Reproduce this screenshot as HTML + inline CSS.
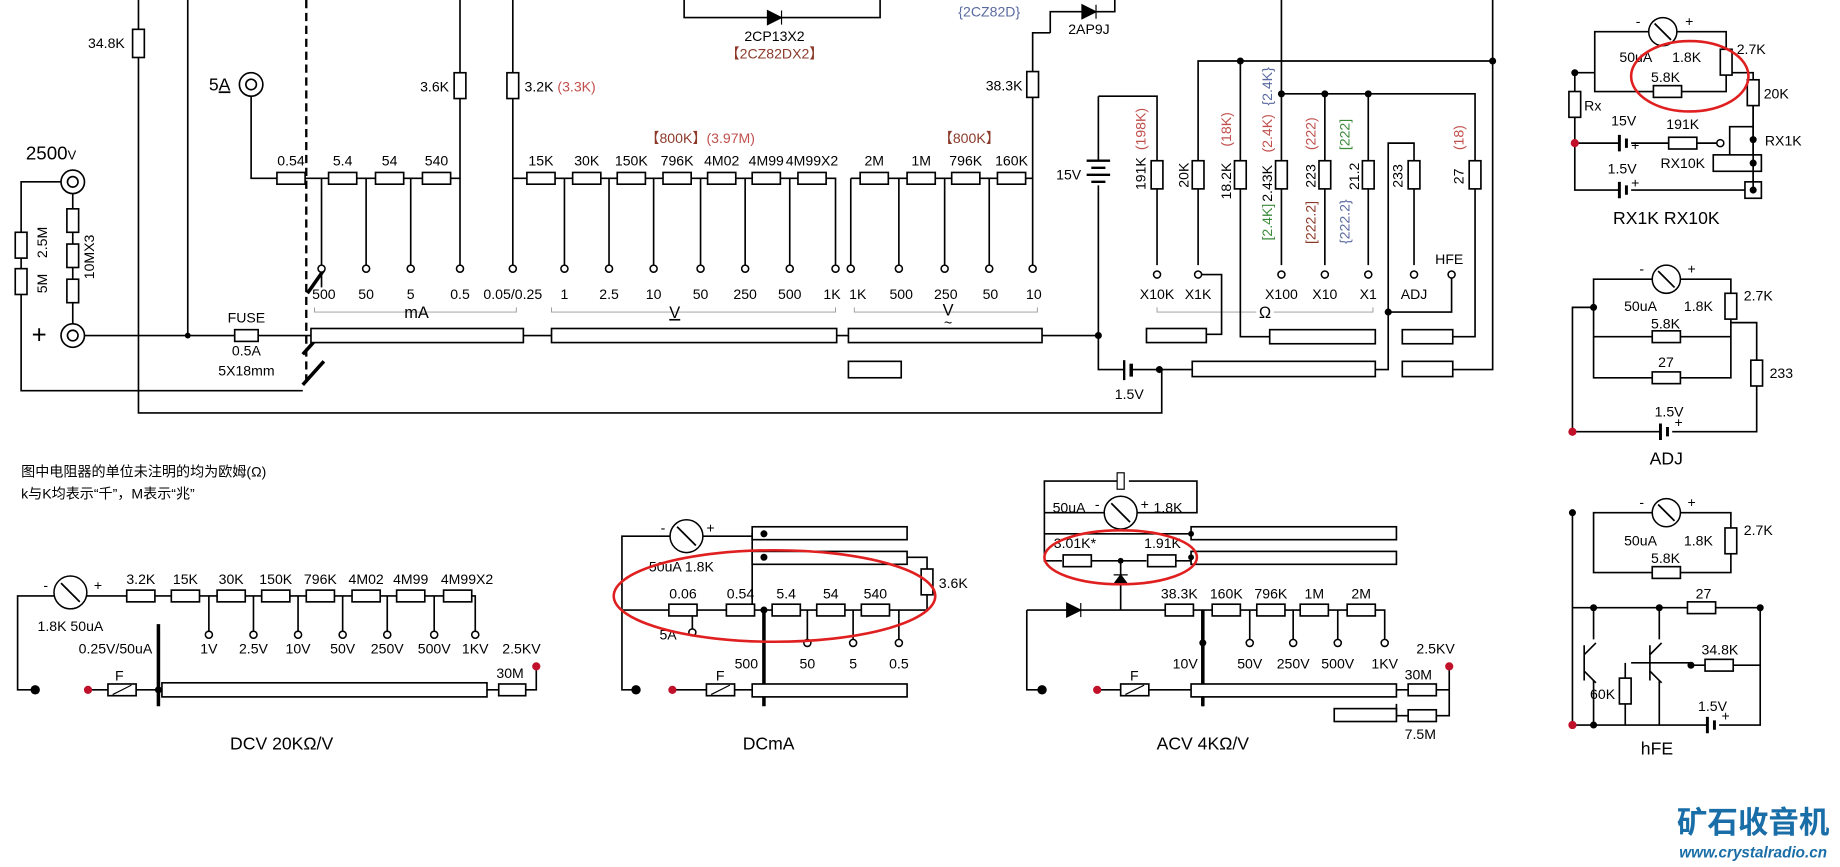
<!DOCTYPE html>
<html><head><meta charset="utf-8"><style>
html,body{margin:0;padding:0;background:#fff;}
svg{display:block;}
text{font-family:"Liberation Sans","Noto Sans CJK SC",sans-serif;font-size:12px;fill:#000;}
.l{stroke:#000;stroke-width:1.4;fill:none;}
.r{fill:#fff;stroke:#000;stroke-width:1.4;}
.t{fill:#fff;stroke:#000;stroke-width:1.3;}
.br{fill:#8b3a2a;}.rd{fill:#c0504d;}.bl{fill:#5a6aa0;}.gr{fill:#3a8a3a;}
.m{text-anchor:middle;}
.b{font-size:15px;}
</style></head><body>
<svg width="1840" height="867" viewBox="0 0 1568 739" preserveAspectRatio="none" xmlns="http://www.w3.org/2000/svg">
<!-- ===== TOP MAIN ===== -->
<path class="l" d="M118 0V352H990V315"/>
<rect class="r" x="113" y="25" width="10" height="24"/>
<text x="75" y="41">34.8K</text>
<path class="l" d="M160 0V286"/>
<circle cx="160" cy="286" r="2.5"/>
<circle class="l" cx="62" cy="155" r="10" stroke-width="2"/><circle class="l" cx="62" cy="155" r="4.5"/>
<text x="22" y="136" style="font-size:16px">2500<tspan style="font-size:11px">V</tspan></text>
<path class="l" d="M52 155H18V333H258"/>
<rect class="r" x="13" y="198" width="10" height="22"/><rect class="r" x="13" y="229" width="10" height="22"/>
<text transform="translate(40,220) rotate(-90)">2.5M</text>
<text transform="translate(40,250) rotate(-90)">5M</text>
<path class="l" d="M62 165V276"/>
<rect class="r" x="57" y="178" width="10" height="20"/><rect class="r" x="57" y="208" width="10" height="20"/><rect class="r" x="57" y="238" width="10" height="20"/>
<text transform="translate(80,238) rotate(-90)">10MX3</text>
<circle class="l" cx="62" cy="286" r="10" stroke-width="2"/><circle class="l" cx="62" cy="286" r="4.5"/>
<text x="27" y="293" style="font-size:22px">+</text>
<path class="l" d="M72 286H265"/>
<rect class="r" x="200" y="281" width="20" height="10"/>
<text class="m" x="210" y="275">FUSE</text><text class="m" x="210" y="303">0.5A</text><text class="m" x="210" y="320">5X18mm</text>
<circle class="l" cx="214" cy="72" r="10" stroke-width="2"/><circle class="l" cx="214" cy="72" r="4.5"/>
<text x="178" y="77" style="font-size:15px">5<tspan text-decoration="underline">A</tspan></text>
<path class="l" d="M214 82V152H392V0"/>
<path d="M261 0V330" stroke="#000" stroke-width="2" stroke-dasharray="7,4"/>
<path d="M262 250L276 230M258 302L276 282M258 328L276 308" stroke="#000" stroke-width="3"/>
<rect class="r" x="236" y="147" width="24" height="10"/><rect class="r" x="280" y="147" width="24" height="10"/>
<rect class="r" x="320" y="147" width="24" height="10"/><rect class="r" x="360" y="147" width="24" height="10"/>
<text class="m" x="248" y="141">0.54</text><text class="m" x="292" y="141">5.4</text><text class="m" x="332" y="141">54</text><text class="m" x="372" y="141">540</text>
<rect class="r" x="387" y="62" width="10" height="22"/><text x="358" y="78">3.6K</text>
<path class="l" d="M274 152V245M312 152V226M350 152V226M392 152V226"/>
<path class="l" d="M437 0V226M437 152H712V226"/>
<rect class="r" x="432" y="62" width="10" height="22"/><text x="447" y="78">3.2K <tspan class="rd">(3.3K)</tspan></text>
<rect class="r" x="449" y="147" width="24" height="10"/><rect class="r" x="488" y="147" width="24" height="10"/><rect class="r" x="526" y="147" width="24" height="10"/>
<rect class="r" x="565" y="147" width="24" height="10"/><rect class="r" x="603" y="147" width="24" height="10"/><rect class="r" x="641" y="147" width="24" height="10"/><rect class="r" x="680" y="147" width="24" height="10"/>
<text class="m" x="461" y="141">15K</text><text class="m" x="500" y="141">30K</text><text class="m" x="538" y="141">150K</text><text class="m" x="577" y="141">796K</text><text class="m" x="615" y="141">4M02</text><text class="m" x="653" y="141">4M99</text><text class="m" x="692" y="141">4M99X2</text>
<text x="550" y="122" class="br">【800K】<tspan class="rd">(3.97M)</tspan></text>
<path class="l" d="M481 152V226M519 152V226M557 152V226M597 152V226M635 152V226M673 152V226"/>
<path class="l" d="M725 152V226M725 152H880V226M880 152V28H895"/>
<rect class="r" x="733" y="147" width="24" height="10"/><rect class="r" x="773" y="147" width="24" height="10"/><rect class="r" x="811" y="147" width="24" height="10"/><rect class="r" x="850" y="147" width="24" height="10"/>
<text class="m" x="745" y="141">2M</text><text class="m" x="785" y="141">1M</text><text class="m" x="823" y="141">796K</text><text class="m" x="862" y="141">160K</text>
<text x="800" y="122" class="br">【800K】</text>
<rect class="r" x="875" y="61" width="10" height="22"/><text x="840" y="77">38.3K</text>
<path class="l" d="M766 152V226M805 152V226M843 152V226"/>
<g fill="#fff" stroke="#000" stroke-width="1.3">
<circle cx="274" cy="229" r="3"/><circle cx="312" cy="229" r="3"/><circle cx="350" cy="229" r="3"/><circle cx="392" cy="229" r="3"/><circle cx="437" cy="229" r="3"/>
<circle cx="481" cy="229" r="3"/><circle cx="519" cy="229" r="3"/><circle cx="557" cy="229" r="3"/><circle cx="597" cy="229" r="3"/><circle cx="635" cy="229" r="3"/><circle cx="673" cy="229" r="3"/><circle cx="712" cy="229" r="3"/>
<circle cx="725" cy="229" r="3"/><circle cx="766" cy="229" r="3"/><circle cx="805" cy="229" r="3"/><circle cx="843" cy="229" r="3"/><circle cx="880" cy="229" r="3"/>
</g>
<text x="276" y="255" class="m">500</text><text x="312" y="255" class="m">50</text><text x="350" y="255" class="m">5</text><text x="392" y="255" class="m">0.5</text><text x="437" y="255" class="m">0.05/0.25</text>
<text x="481" y="255" class="m">1</text><text x="519" y="255" class="m">2.5</text><text x="557" y="255" class="m">10</text><text x="597" y="255" class="m">50</text><text x="635" y="255" class="m">250</text><text x="673" y="255" class="m">500</text><text x="709" y="255" class="m">1K</text>
<text x="731" y="255" class="m">1K</text><text x="768" y="255" class="m">500</text><text x="806" y="255" class="m">250</text><text x="844" y="255" class="m">50</text><text x="881" y="255" class="m">10</text>
<text x="986" y="255" class="m">X10K</text><text x="1021" y="255" class="m">X1K</text><text x="1092" y="255" class="m">X100</text><text x="1129" y="255" class="m">X10</text><text x="1166" y="255" class="m">X1</text><text x="1205" y="255" class="m">ADJ</text><text x="1235" y="225" class="m">HFE</text>
<path d="M268 262V266H440V262M470 262V266H712V262M728 262V266H884V262M986 262V266H1170V262" stroke="#999" stroke-width="0.8" fill="none"/>
<text class="m" x="355" y="271" style="font-size:14px">mA</text><text class="m" x="575" y="271" style="font-size:14px;text-decoration:underline">V</text>
<text class="m" x="808" y="269" style="font-size:14px">V</text><text class="m" x="808" y="279" style="font-size:12px">~</text><text class="m" x="1078" y="271" style="font-size:14px;paint-order:stroke" stroke="#fff" stroke-width="6">Ω</text>
<rect class="r" x="265" y="280" width="181" height="12"/><rect class="r" x="470" y="280" width="243" height="12"/><rect class="r" x="723" y="280" width="165" height="12"/><rect class="r" x="723" y="308" width="45" height="14"/>
<path class="l" d="M446 286H470M713 286H723M888 286H936"/>
<!-- top diodes -->
<path class="l" d="M583 0V15H750V0"/>
<path d="M654 9V21L666 15Z M666 9V21" stroke="#000" fill="#000"/>
<text class="m" x="660" y="35">2CP13X2</text><text class="m br" x="660" y="50">【2CZ82DX2】</text>
<text class="m bl" x="843" y="14">{2CZ82D}</text>
<path d="M922 4V16L934 10Z M934 4V16" stroke="#000" fill="#000"/><path class="l" d="M895 28V10H922M934 10H950V0"/>
<text class="m" x="928" y="29">2AP9J</text>
<!-- ohm section -->
<path class="l" d="M936 82V136M936 158V315H957M965 315H1016"/>
<circle cx="936" cy="286" r="3"/><circle cx="988" cy="315" r="3"/>
<path d="M926 137H946M930 143H942M926 149H946M930 155H942" stroke="#000" stroke-width="2"/>
<text x="900" y="153">15V</text>
<path d="M958 307V324" stroke="#000" stroke-width="2"/><path d="M964 310V321" stroke="#000" stroke-width="3"/>
<text x="950" y="340">1.5V</text>
<path class="l" d="M936 82H986V226"/>
<rect class="r" x="981" y="137" width="10" height="24"/>
<text transform="translate(976,162) rotate(-90)">191K</text><text class="rd" transform="translate(976,128) rotate(-90)">(198K)</text>
<path class="l" d="M1021 226V52H1272V315H1238M1272 52V0M1021 234H1041V285H1028"/>
<circle cx="1057" cy="52" r="3"/><circle cx="1272" cy="52" r="3"/>
<rect class="r" x="1016" y="137" width="10" height="24"/><text transform="translate(1013,160) rotate(-90)">20K</text>
<path class="l" d="M1057 52V287H1082M1092 0V226M1092 80H1257V287H1238M1129 80V226M1166 80V226"/>
<circle cx="1092" cy="80" r="3"/><circle cx="1129" cy="80" r="3"/><circle cx="1166" cy="80" r="3"/>
<rect class="r" x="1052" y="137" width="10" height="24"/><text transform="translate(1049,170) rotate(-90)">18.2K</text><text class="rd" transform="translate(1049,125) rotate(-90)">(18K)</text>
<rect class="r" x="1087" y="137" width="10" height="24"/><text transform="translate(1084,172) rotate(-90)">2.43K</text><text class="rd" transform="translate(1084,130) rotate(-90)">(2.4K)</text><text class="bl" transform="translate(1084,90) rotate(-90)">{2.4K}</text>
<text class="gr" transform="translate(1084,205) rotate(-90)">[2.4K]</text>
<rect class="r" x="1124" y="137" width="10" height="24"/><text transform="translate(1121,160) rotate(-90)">223</text><text class="rd" transform="translate(1121,128) rotate(-90)">(222)</text><text class="br" transform="translate(1121,208) rotate(-90)">[222.2]</text>
<rect class="r" x="1161" y="137" width="10" height="24"/><text transform="translate(1158,162) rotate(-90)">21.2</text><text class="gr" transform="translate(1150,128) rotate(-90)">[222]</text><text class="bl" transform="translate(1150,208) rotate(-90)">{222.2}</text>
<path class="l" d="M1205 226V122H1183V315H1172M1183 266H1237V236"/>
<circle cx="1183" cy="266" r="3"/>
<rect class="r" x="1200" y="137" width="10" height="24"/><text transform="translate(1195,160) rotate(-90)">233</text>
<rect class="r" x="1252" y="137" width="10" height="24"/><text transform="translate(1247,157) rotate(-90)">27</text><text class="rd" transform="translate(1247,128) rotate(-90)">(18)</text>
<g fill="#fff" stroke="#000" stroke-width="1.3">
<circle cx="986" cy="234" r="3"/><circle cx="1021" cy="234" r="3"/><circle cx="1092" cy="234" r="3"/><circle cx="1129" cy="234" r="3"/><circle cx="1166" cy="234" r="3"/><circle cx="1205" cy="234" r="3"/><circle cx="1237" cy="234" r="3"/>
</g>
<rect class="r" x="977" y="280" width="51" height="12"/><rect class="r" x="1082" y="281" width="90" height="12"/><rect class="r" x="1195" y="281" width="43" height="12"/>
<rect class="r" x="1016" y="308" width="156" height="13"/><rect class="r" x="1195" y="308" width="43" height="13"/>
<!-- RX1K RX10K -->
<circle class="t" cx="1417" cy="27" r="12"/><path d="M1410 20L1424 34" stroke="#000" stroke-width="1.5"/>
<text x="1394" y="22">-</text><text x="1436" y="22">+</text>
<path class="l" d="M1405 27H1359V78H1471V27H1429M1342 62H1359M1342 62V162H1380M1390 162H1494V119M1471 62H1494V119M1342 122H1380M1390 122H1466"/>
<circle cx="1342" cy="62" r="3"/><circle cx="1342" cy="122" r="3.5" fill="#c0102a"/>
<rect class="r" x="1466" y="42" width="10" height="22"/><rect class="r" x="1409" y="73" width="24" height="10"/><rect class="r" x="1489" y="68" width="10" height="22"/><rect class="r" x="1337" y="78" width="10" height="22"/>
<rect class="r" x="1422" y="117" width="24" height="10"/><circle class="t" cx="1466" cy="122" r="3"/>
<path d="M1380 115V129M1386 118V126M1380 155V169M1386 158V166" stroke="#000" stroke-width="2.5"/>
<rect class="r" x="1460" y="132" width="41" height="14"/><rect class="r" x="1487" y="155" width="14" height="14"/>
<path class="l" d="M1494 90V162M1474 132V108H1494"/><circle cx="1494" cy="119" r="3"/><circle cx="1494" cy="139" r="3"/><circle cx="1494" cy="162" r="3"/>
<text x="1380" y="53">50uA</text><text x="1425" y="53">1.8K</text><text x="1480" y="46">2.7K</text><text x="1407" y="70">5.8K</text><text x="1503" y="84">20K</text><text x="1350" y="94">Rx</text>
<text x="1373" y="107">15V</text><text x="1390" y="128">+</text><text x="1420" y="110">191K</text><text x="1504" y="124">RX1K</text><text x="1415" y="143">RX10K</text><text x="1370" y="148">1.5V</text><text x="1390" y="160">+</text>
<text class="m b" x="1420" y="191">RX1K RX10K</text>
<ellipse cx="1440" cy="65" rx="50" ry="30" fill="none" stroke="#e02020" stroke-width="2.2"/>
<!-- ADJ -->
<circle class="t" cx="1420" cy="238" r="12"/><path d="M1413 231L1427 245" stroke="#000" stroke-width="1.5"/>
<text x="1397" y="233">-</text><text x="1438" y="233">+</text>
<path class="l" d="M1408 238H1358V322H1475V238H1432M1358 287H1475M1358 262H1340V368H1415M1425 368H1497V275H1475"/>
<circle cx="1358" cy="262" r="3"/><circle cx="1340" cy="368" r="3.5" fill="#c0102a"/>
<rect class="r" x="1470" y="250" width="10" height="22"/><rect class="r" x="1408" y="282" width="24" height="10"/><rect class="r" x="1408" y="317" width="24" height="10"/><rect class="r" x="1492" y="307" width="10" height="22"/>
<path d="M1415 361V375M1421 364V372" stroke="#000" stroke-width="2.5"/>
<text x="1384" y="265">50uA</text><text x="1435" y="265">1.8K</text><text x="1486" y="256">2.7K</text><text x="1407" y="280">5.8K</text><text x="1413" y="313">27</text><text x="1508" y="322">233</text><text x="1410" y="355">1.5V</text><text x="1427" y="364">+</text>
<text class="m b" x="1420" y="396">ADJ</text>
<!-- hFE -->
<circle class="t" cx="1420" cy="437" r="12"/><path d="M1413 430L1427 444" stroke="#000" stroke-width="1.5"/>
<text x="1397" y="432">-</text><text x="1438" y="432">+</text>
<path class="l" d="M1408 437H1358V488H1475V437H1432M1340 437V618H1455M1465 618H1500V518H1340M1475 488V468M1358 518V545M1414 518V545M1390 565H1441M1385 565V578M1385 600V618M1414 580V618M1358 580V618"/>
<path class="l" d="M1350 550V580M1350 558L1360 548M1350 572L1360 582M1406 550V580M1406 558L1416 548M1406 572L1416 582M1441 567H1500"/>
<circle cx="1340" cy="437" r="3"/><circle cx="1340" cy="618" r="3.5" fill="#c0102a"/><circle cx="1358" cy="518" r="3"/><circle cx="1414" cy="518" r="3"/><circle cx="1500" cy="518" r="3"/><circle cx="1358" cy="618" r="3"/><circle cx="1441" cy="567" r="3"/>
<rect class="r" x="1470" y="450" width="10" height="22"/><rect class="r" x="1408" y="483" width="24" height="10"/><rect class="r" x="1438" y="513" width="24" height="10"/><rect class="r" x="1453" y="562" width="24" height="10"/><rect class="r" x="1380" y="578" width="10" height="22"/>
<path d="M1455 611V625M1461 614V622" stroke="#000" stroke-width="2.5"/>
<text x="1384" y="465">50uA</text><text x="1435" y="465">1.8K</text><text x="1486" y="456">2.7K</text><text x="1407" y="480">5.8K</text><text x="1445" y="510">27</text><text x="1450" y="558">34.8K</text><text x="1355" y="596">60K</text><text x="1447" y="606">1.5V</text><text x="1467" y="614">+</text>
<text class="m b" x="1412" y="643">hFE</text>
<!-- notes -->
<text x="18" y="406">图中电阻器的单位未注明的均为欧姆(Ω)</text>
<text x="18" y="425">k与K均表示“千”，M表示“兆”</text>
<!-- DCV -->
<circle class="t" cx="60" cy="505" r="14"/><path d="M52 497L68 513" stroke="#000" stroke-width="1.5"/>
<text x="37" y="503">-</text><text x="80" y="503">+</text>
<path class="l" d="M46 508H15V588H28M74 508H405V538M178 508V538M216 508V538M254 508V538M292 508V538M330 508V538M370 508V538M75 588H138M415 588H425M448 588H457V568"/>
<rect class="r" x="108" y="503" width="24" height="10"/><rect class="r" x="146" y="503" width="24" height="10"/><rect class="r" x="185" y="503" width="24" height="10"/><rect class="r" x="223" y="503" width="24" height="10"/><rect class="r" x="261" y="503" width="24" height="10"/><rect class="r" x="300" y="503" width="24" height="10"/><rect class="r" x="338" y="503" width="24" height="10"/><rect class="r" x="378" y="503" width="24" height="10"/>
<text class="m" x="120" y="498">3.2K</text><text class="m" x="158" y="498">15K</text><text class="m" x="197" y="498">30K</text><text class="m" x="235" y="498">150K</text><text class="m" x="273" y="498">796K</text><text class="m" x="312" y="498">4M02</text><text class="m" x="350" y="498">4M99</text><text class="m" x="398" y="498">4M99X2</text>
<g fill="#fff" stroke="#000" stroke-width="1.3"><circle cx="178" cy="541" r="3"/><circle cx="216" cy="541" r="3"/><circle cx="254" cy="541" r="3"/><circle cx="292" cy="541" r="3"/><circle cx="330" cy="541" r="3"/><circle cx="370" cy="541" r="3"/><circle cx="405" cy="541" r="3"/></g>
<text class="m" x="178" y="557">1V</text><text class="m" x="216" y="557">2.5V</text><text class="m" x="254" y="557">10V</text><text class="m" x="292" y="557">50V</text><text class="m" x="330" y="557">250V</text><text class="m" x="370" y="557">500V</text><text class="m" x="405" y="557">1KV</text>
<text x="32" y="538">1.8K  50uA</text><text x="67" y="557">0.25V/50uA</text><text x="428" y="557">2.5KV</text><text x="423" y="578">30M</text><text x="98" y="580">F</text>
<circle cx="30" cy="588" r="4"/><circle cx="75" cy="588" r="3.5" fill="#c0102a"/><circle cx="457" cy="568" r="3.5" fill="#c0102a"/>
<rect class="r" x="92" y="583" width="24" height="10"/><path d="M96 592L112 584" stroke="#000"/>
<path d="M135 532V602" stroke="#000" stroke-width="3"/><circle cx="135" cy="588" r="3"/>
<rect class="r" x="138" y="582" width="277" height="12"/><rect class="r" x="425" y="583" width="23" height="10"/>
<text class="m b" x="240" y="639">DCV   20KΩ/V</text>
<!-- DCmA -->
<circle class="t" cx="585" cy="457" r="14"/><path d="M577 449L593 465" stroke="#000" stroke-width="1.5"/>
<text x="563" y="454">-</text><text x="602" y="454">+</text>
<path class="l" d="M571 457H530V588H540M599 457H641M641 454V520M530 520H790V505M790 487V475H773M651 520V545M688 520V545M727 520V545M766 520V545M590 520V538M573 588H641"/>
<rect class="r" x="641" y="449" width="132" height="11"/><rect class="r" x="641" y="470" width="132" height="11"/>
<circle cx="651" cy="455" r="3"/><circle cx="651" cy="475" r="3"/><circle cx="651" cy="520" r="3"/>
<rect class="r" x="570" y="515" width="24" height="10"/><rect class="r" x="619" y="515" width="24" height="10"/><rect class="r" x="658" y="515" width="24" height="10"/><rect class="r" x="696" y="515" width="24" height="10"/><rect class="r" x="734" y="515" width="24" height="10"/><rect class="r" x="785" y="485" width="10" height="22"/>
<text class="m" x="582" y="510">0.06</text><text class="m" x="631" y="510">0.54</text><text class="m" x="670" y="510">5.4</text><text class="m" x="708" y="510">54</text><text class="m" x="746" y="510">540</text><text x="800" y="501">3.6K</text>
<g fill="#fff" stroke="#000" stroke-width="1.3"><circle cx="590" cy="539" r="3"/><circle cx="688" cy="548" r="3"/><circle cx="727" cy="548" r="3"/><circle cx="766" cy="548" r="3"/></g>
<text x="562" y="545">5A</text><text class="m" x="636" y="570">500</text><text class="m" x="688" y="570">50</text><text class="m" x="727" y="570">5</text><text class="m" x="766" y="570">0.5</text>
<text x="553" y="487">50uA  1.8K</text>
<path d="M651 520V602" stroke="#000" stroke-width="3"/>
<rect class="r" x="641" y="583" width="132" height="11"/>
<circle cx="542" cy="588" r="4"/><circle cx="573" cy="588" r="3.5" fill="#c0102a"/>
<rect class="r" x="602" y="583" width="24" height="10"/><path d="M606 592L622 584" stroke="#000"/><text x="610" y="580">F</text>
<ellipse cx="660" cy="508" rx="137" ry="39" fill="none" stroke="#e02020" stroke-width="2.2"/>
<text class="m b" x="655" y="639">DCmA</text>
<!-- ACV -->
<circle class="t" cx="955" cy="437" r="14"/><path d="M947 429L963 445" stroke="#000" stroke-width="1.5"/>
<text x="933" y="434">-</text><text x="972" y="434">+</text>
<path class="l" d="M941 437H890V410H952M962 410H1020V437H969M890 437V455H1015M890 455V478H905M930 478H977M1002 478H1015M955 478V520M875 520H1180V545M875 520V588H888M1025 520V602M1065 520V545M1102 520V545M1140 520V545M935 588H1015M1190 588H1200M1224 588H1235V568M1190 600V610H1200M1224 610H1235V588"/>
<rect x="952" y="403" width="6" height="14" fill="#fff" stroke="#000"/>
<rect class="r" x="1015" y="449" width="175" height="11"/><rect class="r" x="1015" y="470" width="175" height="11"/>
<rect class="r" x="906" y="473" width="24" height="10"/><rect class="r" x="978" y="473" width="24" height="10"/>
<path d="M949 498H961L955 490Z M949 490H961" fill="#000" stroke="#000"/>
<text x="898" y="467">3.01K*</text><text x="975" y="467">1.91K</text><text x="897" y="437">50uA</text><text x="983" y="437">1.8K</text>
<path d="M909 514V526L921 520Z M921 514V526" stroke="#000" fill="#000"/>
<rect class="r" x="993" y="515" width="24" height="10"/><rect class="r" x="1033" y="515" width="24" height="10"/><rect class="r" x="1071" y="515" width="24" height="10"/><rect class="r" x="1108" y="515" width="24" height="10"/><rect class="r" x="1148" y="515" width="24" height="10"/>
<text class="m" x="1005" y="510">38.3K</text><text class="m" x="1045" y="510">160K</text><text class="m" x="1083" y="510">796K</text><text class="m" x="1120" y="510">1M</text><text class="m" x="1160" y="510">2M</text>
<g fill="#fff" stroke="#000" stroke-width="1.3"><circle cx="1065" cy="548" r="3"/><circle cx="1102" cy="548" r="3"/><circle cx="1140" cy="548" r="3"/><circle cx="1180" cy="548" r="3"/></g>
<text class="m" x="1010" y="570">10V</text><text class="m" x="1065" y="570">50V</text><text class="m" x="1102" y="570">250V</text><text class="m" x="1140" y="570">500V</text><text class="m" x="1180" y="570">1KV</text>
<text x="1207" y="557">2.5KV</text><text x="1197" y="579">30M</text><text x="1197" y="630">7.5M</text>
<circle cx="1015" cy="455" r="2.5"/><circle cx="1015" cy="475" r="2.5"/><circle cx="955" cy="478" r="2.5"/><circle cx="1025" cy="548" r="3"/>
<path d="M1025 520V602" stroke="#000" stroke-width="3"/>
<rect class="r" x="1015" y="583" width="175" height="11"/><rect class="r" x="1137" y="604" width="53" height="11"/>
<rect class="r" x="1200" y="583" width="24" height="10"/><rect class="r" x="1200" y="605" width="24" height="10"/>
<circle cx="888" cy="588" r="4"/><circle cx="935" cy="588" r="3.5" fill="#c0102a"/><circle cx="1235" cy="568" r="3.5" fill="#c0102a"/>
<rect class="r" x="955" y="583" width="24" height="10"/><path d="M959 592L975 584" stroke="#000"/><text x="963" y="580">F</text>
<ellipse cx="955" cy="475" rx="65" ry="23" fill="none" stroke="#e02020" stroke-width="2.2"/>
<text class="m b" x="1025" y="639">ACV   4KΩ/V</text>
<!-- logo -->
<text x="1494" y="710" style="font-size:26px;font-weight:bold;fill:#1a6ea8;font-family:'Noto Sans CJK SC',sans-serif" text-anchor="middle">矿石收音机</text>
<text x="1494" y="731" style="font-size:13px;font-weight:bold;font-style:italic;fill:#1a6ea8" text-anchor="middle">www.crystalradio.cn</text>
</svg>
</body></html>
